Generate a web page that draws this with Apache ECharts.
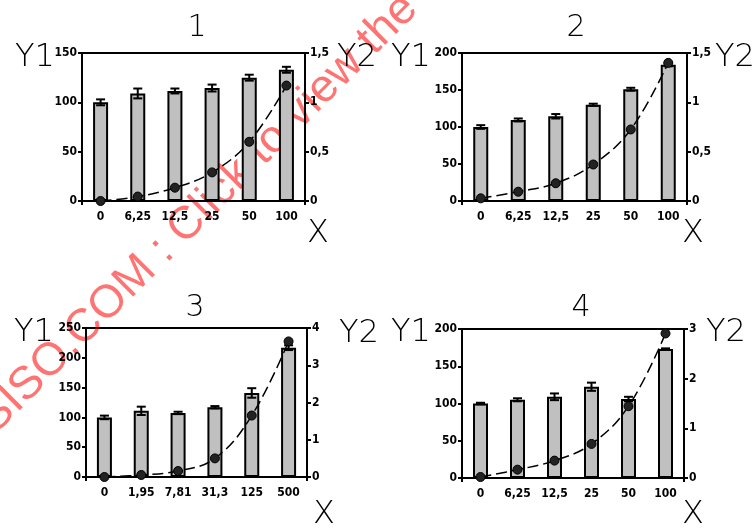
<!DOCTYPE html>
<html><head><meta charset="utf-8">
<script src="https://cdn.jsdelivr.net/npm/echarts@6/dist/echarts.min.js"></script>
<style>html,body{margin:0;padding:0;background:#fff}#c{width:755px;height:529px}</style>
</head><body><div id="c"></div>
<script>
// ---- data ----
const titles = ['1', '2', '3', '4'];
const catsA = ['0', '6,25', '12,5', '25', '50', '100'];
const catsB = ['0', '1,95', '7,81', '31,3', '125', '500'];

const bars1 = [100, 109, 111.5, 114.5, 125, 133];
const errs1 = [3, 5, 2.5, 3.5, 3, 3];
const line1 = [0, 0.045, 0.135, 0.29, 0.6, 1.17];

const bars2 = [100, 109.5, 114.5, 130, 151, 184];
const errs2 = [2.5, 2, 3, 1.5, 2, 2];
const line2 = [0.027, 0.094, 0.18, 0.37, 0.725, 1.40];

const bars3 = [100, 111, 107.5, 117, 141, 217];
const errs3 = [3, 7, 2, 2, 8, 4];
const line3 = [0, 0.054, 0.16, 0.5, 1.65, 3.64];

const bars4 = [100, 105, 109, 122.5, 106, 173];
const errs4 = [1, 2, 4.5, 5.5, 3, 1];
const line4 = [0.02, 0.168, 0.35, 0.686, 1.446, 2.91];

const y1Max = [150, 200, 250, 200];
const y1Step = [50, 50, 50, 50];
const y2Max = [1.5, 1.5, 4, 3];
const y2Step = [0.5, 0.5, 1, 1];

const watermark = ['STANDARDSISO.COM ', ':', ' Click to view the full PDF of ISO'];

// ---- layout ----
const panels = [
  {cats: catsA, bars: bars1, errs: errs1, line: line1, grid: {left: 82, top: 53, width: 223, height: 148},
   t: [197, 28], y1: [35, 58], y2: [357, 58], x: [318, 234]},
  {cats: catsA, bars: bars2, errs: errs2, line: line2, grid: {left: 462, top: 53, width: 225, height: 148},
   t: [576, 28], y1: [411, 58], y2: [735, 58], x: [693, 234]},
  {cats: catsB, bars: bars3, errs: errs3, line: line3, grid: {left: 86, top: 328, width: 221, height: 149},
   t: [195, 308], y1: [34, 333], y2: [359, 334], x: [324, 515]},
  {cats: catsA, bars: bars4, errs: errs4, line: line4, grid: {left: 462, top: 329, width: 222, height: 149},
   t: [581, 308], y1: [411, 333], y2: [726, 333], x: [693, 515]}
];

const tickFont = {fontFamily: 'DejaVu Sans Condensed', fontWeight: 'bold', fontSize: 12, color: '#000'};
const bigFont = 'DejaVu Sans';
const fmt = v => String(v).replace('.', ',');

const grids = [], xAxes = [], yAxes = [], series = [], graphics = [];

function errRender(params, api) {
  const x = api.value(0);
  const lo = api.coord([x, api.value(1)]);
  const hi = api.coord([x, api.value(2)]);
  const hw = 4.5;
  const style = {stroke: '#000', lineWidth: 2};
  return {type: 'group', children: [
    {type: 'line', shape: {x1: lo[0], y1: lo[1], x2: hi[0], y2: hi[1]}, style},
    {type: 'line', shape: {x1: lo[0] - hw, y1: lo[1], x2: lo[0] + hw, y2: lo[1]}, style},
    {type: 'line', shape: {x1: hi[0] - hw, y1: hi[1], x2: hi[0] + hw, y2: hi[1]}, style}
  ]};
}

panels.forEach((p, i) => {
  grids.push(Object.assign({show: true, borderColor: '#000', borderWidth: 2, backgroundColor: 'transparent'}, p.grid));
  xAxes.push({
    type: 'category', gridIndex: i, data: p.cats, boundaryGap: true,
    axisLine: {lineStyle: {color: '#000', width: 2}},
    axisTick: {show: true, length: 4, lineStyle: {color: '#000', width: 2}, interval: idx => idx === 0},
    axisLabel: Object.assign({margin: 10, interval: 0}, tickFont),
    splitLine: {show: false}
  });
  yAxes.push({
    type: 'value', gridIndex: i, position: 'left', min: 0, max: y1Max[i], interval: y1Step[i],
    axisLine: {show: true, lineStyle: {color: '#000', width: 2}},
    axisTick: {show: true, length: 4, lineStyle: {color: '#000', width: 2}},
    axisLabel: Object.assign({margin: 5, formatter: fmt}, tickFont),
    splitLine: {show: false}
  });
  yAxes.push({
    type: 'value', gridIndex: i, position: 'right', min: 0, max: y2Max[i], interval: y2Step[i],
    axisLine: {show: true, lineStyle: {color: '#000', width: 2}},
    axisTick: {show: true, length: 4, lineStyle: {color: '#000', width: 2}},
    axisLabel: Object.assign({margin: 5, formatter: fmt}, tickFont),
    splitLine: {show: false}
  });
  series.push({
    type: 'bar', xAxisIndex: i, yAxisIndex: 2 * i, data: p.bars, barWidth: 15,
    itemStyle: {color: '#c0c0c0', borderColor: '#000', borderWidth: 2}, z: 2, animation: false
  });
  series.push({
    type: 'custom', xAxisIndex: i, yAxisIndex: 2 * i, renderItem: errRender,
    data: p.bars.map((v, k) => [k, v - p.errs[k], v + p.errs[k]]),
    encode: {x: 0, y: [1, 2]}, z: 3, animation: false
  });
  series.push({
    type: 'line', xAxisIndex: i, yAxisIndex: 2 * i + 1, data: p.line, smooth: 0.4,
    symbol: 'circle', symbolSize: 9,
    lineStyle: {color: '#000', width: 1.5, type: [11, 5]},
    itemStyle: {color: '#222', borderColor: '#000', borderWidth: 1}, z: 4, animation: false
  });
  const big = (txt, pos, size) => ({
    type: 'text', x: pos[0], y: pos[1], z: 10,
    style: {text: txt, fontFamily: bigFont, fontWeight: 200, fontSize: size, fill: '#000', align: 'center', verticalAlign: 'middle'}
  });
  graphics.push(big(titles[i], p.t, 30));
  graphics.push(big('Y1', p.y1, 32));
  graphics.push(big('Y2', p.y2, 32));
  graphics.push(big('X', p.x, 32));
});

const wmStyle = {fontFamily: 'Liberation Sans', fontSize: 46, fill: 'rgba(255,0,0,0.55)', verticalAlign: 'middle'};
graphics.push({
  type: 'group', x: 162, y: 250, rotation: 45 * Math.PI / 180, z: 100,
  children: [
    {type: 'text', x: -6, y: 0, style: Object.assign({text: watermark[0], align: 'right'}, wmStyle)},
    {type: 'text', x: 0, y: 0, style: Object.assign({text: watermark[1], align: 'center'}, wmStyle)},
    {type: 'text', x: 6, y: 0, style: Object.assign({text: watermark[2], align: 'left'}, wmStyle)}
  ]
});

const chart = echarts.init(document.getElementById('c'), null, {renderer: 'canvas'});
chart.setOption({
  animation: false,
  backgroundColor: '#fff',
  grid: grids, xAxis: xAxes, yAxis: yAxes, series: series, graphic: graphics
});
</script></body></html>
